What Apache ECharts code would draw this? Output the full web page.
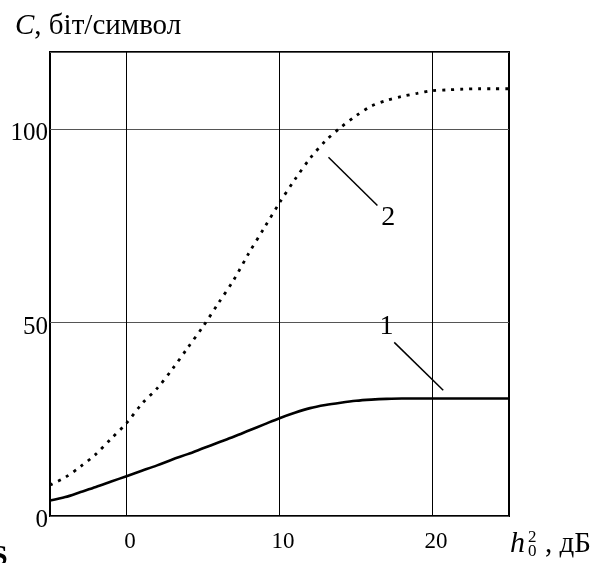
<!DOCTYPE html>
<html>
<head>
<meta charset="utf-8">
<script src="https://cdn.jsdelivr.net/npm/echarts@6/dist/echarts.min.js"></script>
<style>
  html, body { margin: 0; padding: 0; background: #fff; }
  #main { width: 601px; height: 563px; }
</style>
</head>
<body>
<div id="main"></div>
<script>
// h0^2, dB
var xValues = [-5, -4, -3, -2, -1, 0, 1, 2, 3, 4, 5, 6, 7, 8, 9, 10, 11, 12, 13, 14, 15, 16, 17, 18, 19, 20, 21, 22, 23, 24, 25];
// curve 1 (solid)
var curve1 = [4.0, 4.9, 6.2, 7.5, 8.9, 10.3, 11.7, 13.1, 14.6, 16.0, 17.5, 19.0, 20.5, 22.1, 23.7, 25.3, 26.7, 27.9, 28.7, 29.3, 29.8, 30.1, 30.3, 30.4, 30.4, 30.4, 30.4, 30.4, 30.4, 30.4, 30.4];
// curve 2 (dotted)
var curve2 = [8, 10, 12.8, 16, 20, 24, 29, 33, 38, 43.5, 49, 55, 61, 68, 74.5, 81, 87, 92.5, 97, 100.5, 103.5, 106, 107.5, 108.5, 109.3, 110, 110.2, 110.4, 110.5, 110.5, 110.5];
var xGridLines = [0, 10, 20];
var xTickLabels = [0, 10, 20];

var font = "'Liberation Serif', 'DejaVu Serif', serif";

function pairs(xs, ys) {
    return xs.map(function (x, i) { return [x, ys[i]]; });
}

var chart = echarts.init(document.getElementById('main'));

var option = {
    animation: false,
    backgroundColor: '#fff',
    textStyle: { fontFamily: font },
    grid: {
        left: 50,
        right: 92,
        top: 52,
        bottom: 47,
        show: true,
        borderColor: '#000',
        borderWidth: 2
    },
    xAxis: {
        type: 'value',
        min: -5,
        max: 25,
        interval: 5,
        axisLine: { show: false },
        axisTick: { show: false },
        splitLine: { show: false },
        axisLabel: {
            margin: 14,
            fontSize: 23,
            color: '#000',
            fontFamily: font,
            padding: [0, 0, 0, 7],
            formatter: function (v) {
                return xTickLabels.indexOf(v) >= 0 ? String(v) : '';
            }
        }
    },
    yAxis: {
        type: 'value',
        min: 0,
        max: 120,
        interval: 50,
        axisLine: { show: false },
        axisTick: { show: false },
        splitLine: { show: true, lineStyle: { color: '#555', width: 1.2 } },
        axisLabel: {
            margin: 2,
            fontSize: 25,
            lineHeight: 9,
            color: '#000',
            fontFamily: font,
            verticalAlign: 'top',
            showMaxLabel: false,
            formatter: function (v) { return v > 100 ? '' : String(v); }
        }
    },
    series: [
        {
            type: 'line',
            data: pairs(xValues, curve1),
            smooth: 0.3,
            symbol: 'none',
            lineStyle: { color: '#000', width: 2.6 },
            z: 3,
            markLine: {
                silent: true,
                symbol: 'none',
                label: { show: false },
                lineStyle: { color: '#000', width: 1, type: 'solid' },
                data: xGridLines.map(function (x) { return { xAxis: x }; })
            }
        },
        {
            type: 'line',
            data: pairs(xValues, curve2),
            smooth: 0.3,
            symbol: 'none',
            lineStyle: { color: '#000', width: 2.8, type: [3, 6] },
            z: 3
        },
        {
            // leader lines and labels for the curves
            type: 'line',
            data: [],
            z: 4,
            markLine: {
                silent: true,
                symbol: 'none',
                label: { show: false },
                lineStyle: { color: '#000', width: 1.5, type: 'solid' },
                data: [
                    [{ coord: [17.5, 44.9] }, { coord: [20.7, 32.5] }],
                    [{ coord: [13.2, 92.8] }, { coord: [16.4, 80.3] }]
                ]
            },
            markPoint: {
                silent: true,
                symbol: 'circle',
                symbolSize: 0,
                label: {
                    show: true,
                    color: '#000',
                    fontSize: 28,
                    fontFamily: font,
                    formatter: '{b}'
                },
                data: [
                    { name: '1', coord: [17.0, 49.0] },
                    { name: '2', coord: [17.1, 77.1] }
                ]
            }
        }
    ],
    graphic: [
        {
            type: 'text',
            left: 15,
            top: 12,
            style: {
                text: '{i|C}, біт/символ',
                fontFamily: font,
                fontSize: 29,
                fill: '#000',
                rich: {
                    i: { fontStyle: 'italic', fontSize: 29, fontFamily: font }
                }
            }
        },
        {
            type: 'text',
            left: 510,
            top: 529,
            style: { text: 'h', fontFamily: font, fontStyle: 'italic', fontSize: 30, fill: '#000' }
        },
        {
            type: 'text',
            left: 528,
            top: 529,
            style: { text: '2', fontFamily: font, fontSize: 17, fill: '#000' }
        },
        {
            type: 'text',
            left: 528,
            top: 543,
            style: { text: '0', fontFamily: font, fontSize: 17, fill: '#000' }
        },
        {
            type: 'text',
            left: 545,
            top: 530,
            style: { text: ', дБ', fontFamily: font, fontSize: 29, fill: '#000' }
        },
        {
            type: 'text',
            left: -9,
            top: 542,
            style: {
                text: 'S',
                fontFamily: font,
                fontWeight: 'bold',
                fontSize: 30,
                fill: '#000'
            }
        }
    ]
};

chart.setOption(option);
</script>
</body>
</html>
